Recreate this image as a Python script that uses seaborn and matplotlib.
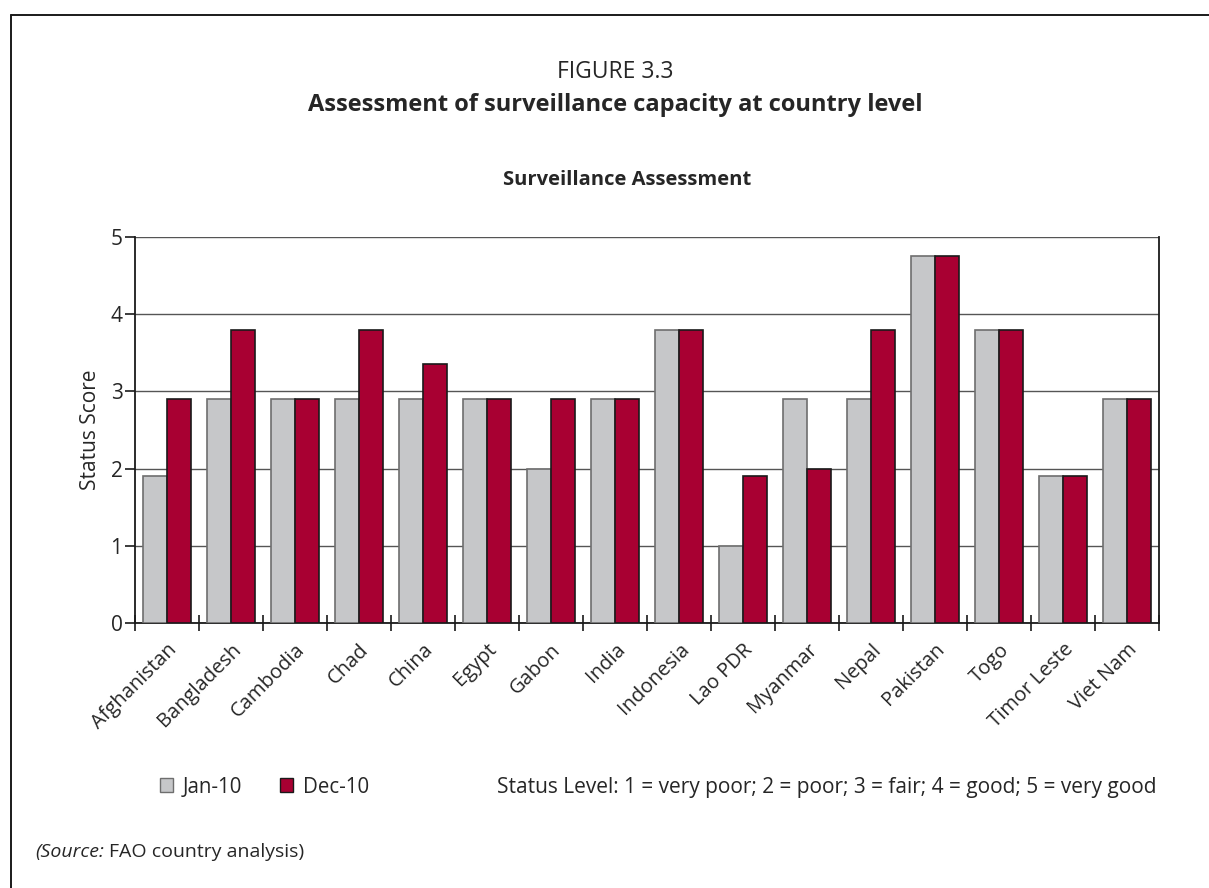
import matplotlib
matplotlib.use("Agg")
import matplotlib.pyplot as plt
from matplotlib.lines import Line2D
from matplotlib.patches import Patch
import seaborn as sns
import pandas as pd
import numpy as np

countries = ["Afghanistan", "Bangladesh", "Cambodia", "Chad", "China", "Egypt",
             "Gabon", "India", "Indonesia", "Lao PDR", "Myanmar", "Nepal",
             "Pakistan", "Togo", "Timor Leste", "Viet Nam"]
jan10 = [1.9, 2.9, 2.9, 2.9, 2.9, 2.9, 2.0, 2.9, 3.8, 1.0, 2.9, 2.9, 4.75, 3.8, 1.9, 2.9]
dec10 = [2.9, 3.8, 2.9, 3.8, 3.35, 2.9, 2.9, 2.9, 3.8, 1.9, 2.0, 3.8, 4.75, 3.8, 1.9, 2.9]
series = ["Jan-10", "Dec-10"]
y_ticks = [0, 1, 2, 3, 4, 5]

grey = "#C6C7C9"
red = "#A80032"
edge_cols = {"Jan-10": "#6E6E6E", "Dec-10": "#1A1A1A"}

df = pd.DataFrame({
    "Country": countries * 2,
    "Period": [series[0]] * len(countries) + [series[1]] * len(countries),
    "Score": jan10 + dec10,
})

sns.set_theme(style="white")
plt.rcParams["font.family"] = ["Open Sans", "DejaVu Sans"]

W, H = 1209, 888
fig = plt.figure(figsize=(W / 100, H / 100), dpi=100)
ax = fig.add_axes([135 / W, 1 - 623 / H, (1159 - 135) / W, (623 - 237) / H])

sns.barplot(data=df, x="Country", y="Score", hue="Period", order=countries,
            hue_order=series, palette=[grey, red], width=0.75, gap=0,
            saturation=1, errorbar=None, ax=ax, legend=False, zorder=3)

# outline colours per series
for container, name in zip(ax.containers, series):
    for bar in container:
        bar.set_edgecolor(edge_cols[name])
        bar.set_linewidth(1.2)

ax.set_xlim(-0.5, len(countries) - 0.5)
ax.set_ylim(0, 5)
ax.set_yticks(y_ticks)
ax.set_yticklabels([str(t) for t in y_ticks], fontsize=15)
ax.yaxis.grid(True, color="#555555", linewidth=1.0, zorder=0)
ax.set_axisbelow(True)

# ticks at category boundaries, labels at centres
ax.set_xticks(np.arange(-0.5, len(countries), 1.0))
ax.set_xticklabels([])
ax.set_xticks(np.arange(len(countries)), minor=True)
ax.set_xticklabels(countries, minor=True, rotation=45, ha="right",
                   rotation_mode="anchor", fontsize=14.5)
ax.tick_params(axis="x", which="major", direction="inout", length=12,
               width=1.2, color="#1A1A1A", bottom=True)
ax.tick_params(axis="x", which="minor", length=0, pad=12, bottom=True)
ax.tick_params(axis="y", direction="out", length=7, width=1.2,
               color="#1A1A1A", left=True, pad=2)

for side in ["left", "bottom", "right"]:
    ax.spines[side].set_visible(True)
    ax.spines[side].set_color("#1A1A1A")
    ax.spines[side].set_linewidth(1.3)
ax.spines["top"].set_visible(False)

ax.set_xlabel("")
ax.set_ylabel("Status Score", fontsize=15, labelpad=7)

# titles
fig.text(615 / W, 1 - 72 / H, "FIGURE 3.3", ha="center", va="center", fontsize=16.5)
fig.text(615 / W, 1 - 105 / H, "Assessment of surveillance capacity at country level",
         ha="center", va="center", fontsize=17, fontweight="bold")
fig.text(627 / W, 1 - 180 / H, "Surveillance Assessment", ha="center", va="center",
         fontsize=14.5, fontweight="bold")

# legend
handles = [Patch(facecolor=grey, edgecolor=edge_cols["Jan-10"], label="Jan-10"),
           Patch(facecolor=red, edgecolor=edge_cols["Dec-10"], label="Dec-10")]
fig.legend(handles=handles, loc="center left", bbox_to_anchor=(141 / W, 1 - 787 / H),
           ncol=2, frameon=False, fontsize=14.8, handlelength=0.65, handleheight=0.65,
           handletextpad=0.5, columnspacing=1.8)
fig.text(497 / W, 1 - 787 / H,
         "Status Level: 1 = very poor; 2 = poor; 3 = fair; 4 = good; 5 = very good",
         ha="left", va="center", fontsize=15)

# source note
italic = fig.text(35 / W, 1 - 852 / H, "(Source:", ha="left", va="center",
                  fontsize=14, style="italic")
fig.canvas.draw()
bb = italic.get_window_extent()
fig.text(bb.x1 / W + 5 / W, 1 - 852 / H, "FAO country analysis)", ha="left",
         va="center", fontsize=14)

# frame around the figure
fig.add_artist(Line2D([11 / W, 11 / W], [0, 1 - 15 / H], transform=fig.transFigure,
                      color="#1A1A1A", linewidth=1.4))
fig.add_artist(Line2D([11 / W, 1], [1 - 15 / H, 1 - 15 / H], transform=fig.transFigure,
                      color="#1A1A1A", linewidth=1.4))

fig.savefig("out.png", dpi=100)
